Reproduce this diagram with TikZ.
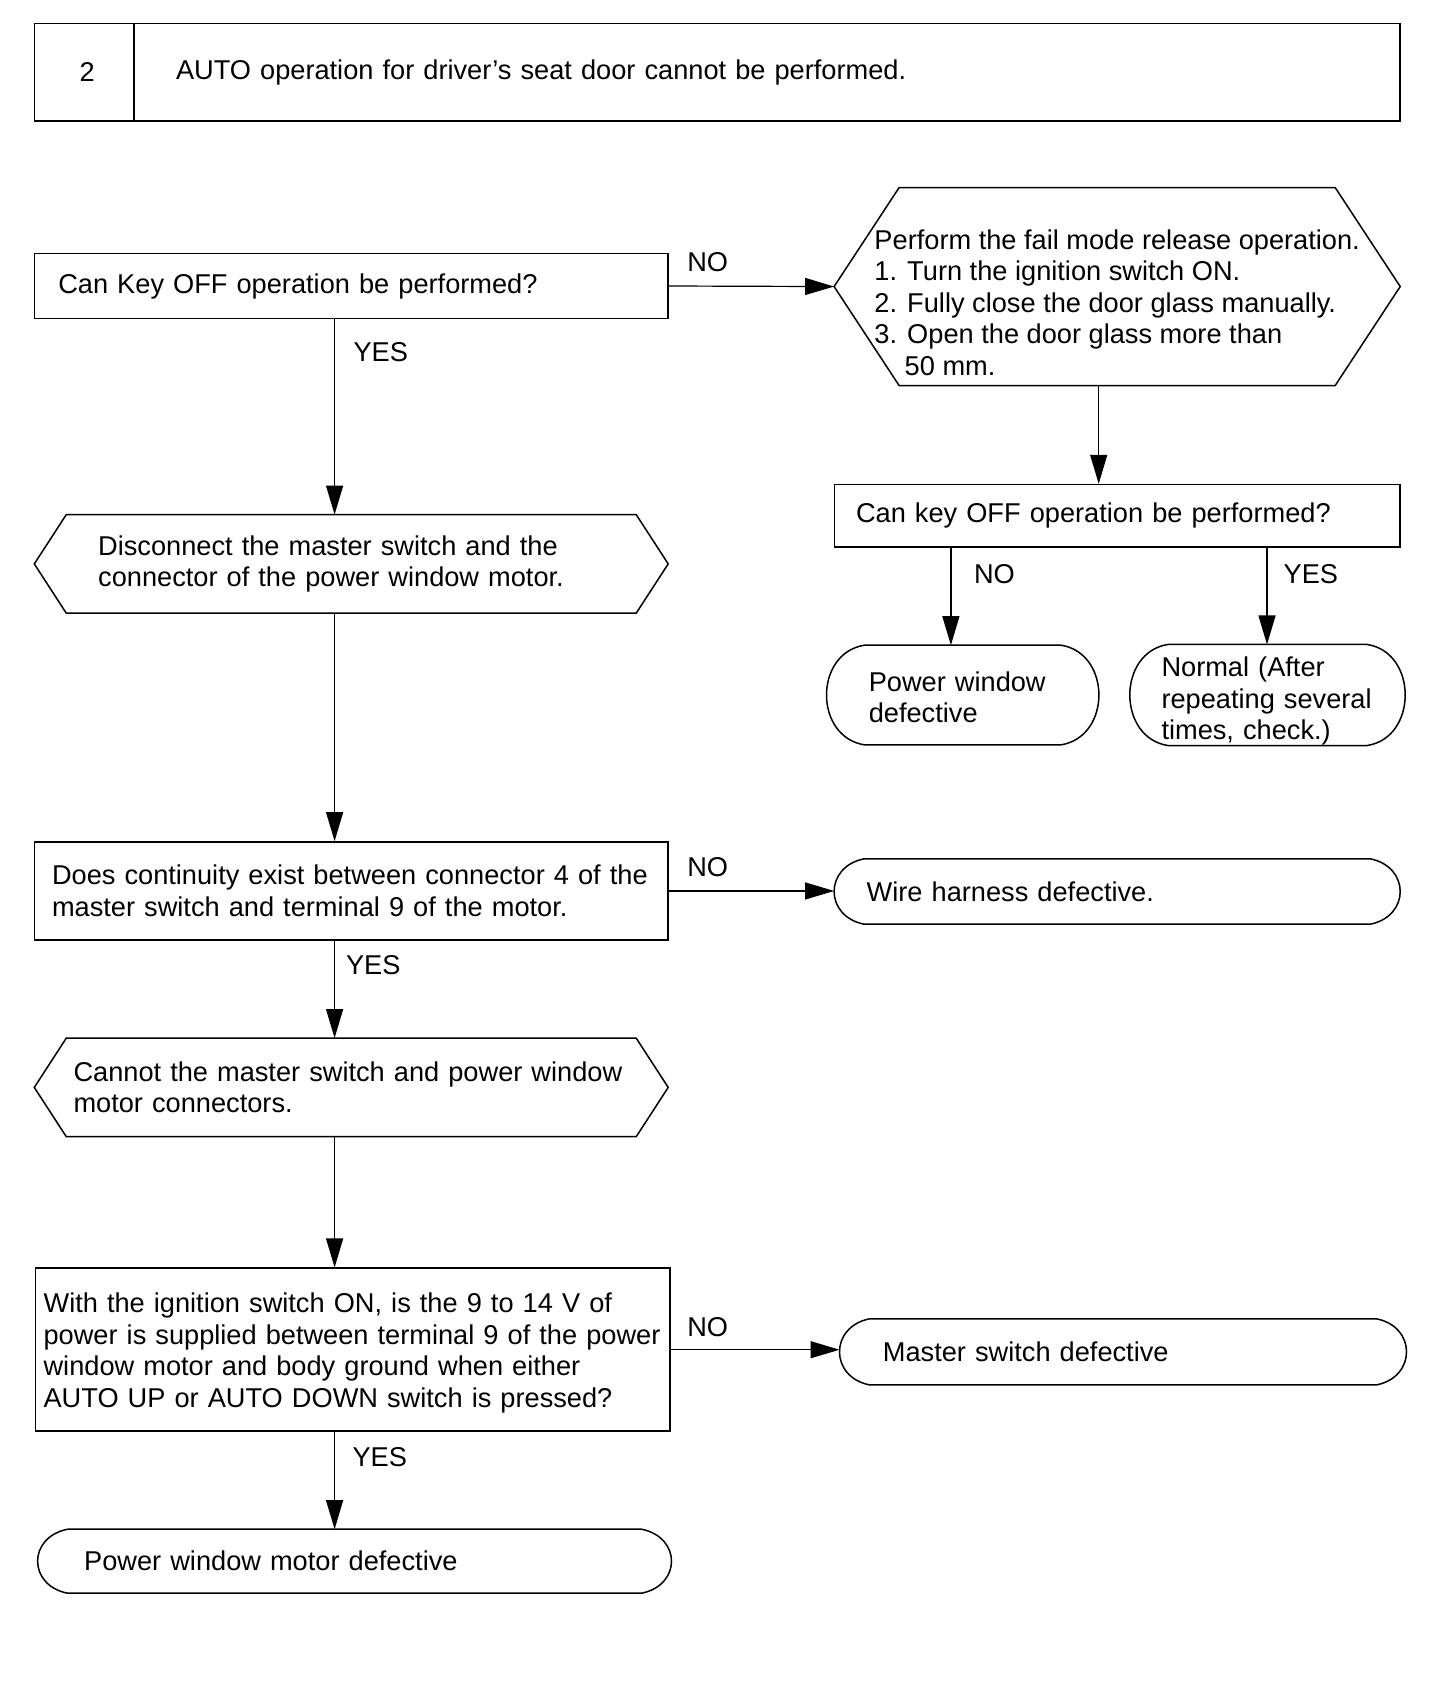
\documentclass[tikz,border=0pt]{standalone}
\usepackage{fontspec}
\setmainfont{Liberation Sans}
\usepackage{tikz}
\usetikzlibrary{arrows.meta}
\tikzset{
  % Flowchart styles
  flowbox/.style={rectangle, draw=black, line width=1.5pt, align=left, inner ysep=0pt},
  hexbox/.style={rectangle, align=left, inner ysep=0pt},
  termbox/.style={rectangle, align=left, inner ysep=0pt},
  outline/.style={draw=black, line width=1.5pt, line join=miter},
  arrow/.style={-{Triangle[length=29pt, width=17pt]}, line width=1.2pt},
  answer/.style={inner sep=0pt},
}
% pointed box round a node (#2 = depth of the points)
\newcommand{\hexoutline}[2]{%
  \draw[outline] (#1.west) -- ([xshift=#2]#1.north west) -- ([xshift=-#2]#1.north east)
    -- (#1.east) -- ([xshift=-#2]#1.south east) -- ([xshift=#2]#1.south west) -- cycle;}
% rounded end box round a node (#2 = depth of the round ends)
\newcommand{\termoutline}[2]{%
  \draw[outline] ([xshift=#2]#1.north west) -- ([xshift=-#2]#1.north east)
    .. controls ([xshift=#2/3, yshift=-8]#1.north east) and ([xshift=#2/3, yshift=8]#1.south east) .. ([xshift=-#2]#1.south east)
    -- ([xshift=#2]#1.south west)
    .. controls ([xshift=-#2/3, yshift=8]#1.south west) and ([xshift=-#2/3, yshift=-8]#1.north west) .. ([xshift=#2]#1.north west);}

\begin{document}
\begin{tikzpicture}[x=1pt, y=-1pt, font=\fontsize{27.2}{31.5}\selectfont]
    \useasboundingbox (0,0) rectangle (1456,1692);

    % Heading
    \node[flowbox, minimum width=99.3, minimum height=97.2, inner xsep=0pt, align=center] (num) at (84.15,72.3) {\hspace*{6pt}2};
    \node[flowbox, minimum width=1266.2, minimum height=97.2, text width=1181.8, inner xsep=42.2] (title) at (766.9,72.3)
      {AUTO operation for driver's seat door cannot be performed.};

    % Columns of the vertical connectors
    \coordinate (spine) at (334.6,0);
    \coordinate (rspine) at (1098.7,0);
    \coordinate (nocol) at (950.9,0);
    \coordinate (yescol) at (1267,0);

    % Key OFF check
    \node[flowbox, minimum width=633.5, minimum height=64.8, text width=585.9, inner xsep=23.8] (keyoff) at (351.25,286)
      {Can Key OFF operation be performed?};

    % Fail mode release
    \node[hexbox, minimum width=565.7, minimum height=197.5, inner xsep=0pt] (release) at (1117.15,286.55)
      {\rule{0pt}{52pt}Perform the fail mode release operation.\\
       1. Turn the ignition switch ON.\\
       2. Fully close the door glass manually.\\
       3. Open the door glass more than\\
       \hphantom{3.~}50 mm.};
    \hexoutline{release}{65}

    \node[flowbox, minimum width=565.7, minimum height=62.6, text width=522.3, inner xsep=21.7] (recheck) at (1117.15,515.9)
      {Can key OFF operation be performed?};

    \node[termbox, minimum width=272, minimum height=99.3, text width=187.8, inner xsep=42.1] (pwdef) at (962.7,695)
      {\rule{0pt}{24pt}Power window\\defective};
    \termoutline{pwdef}{38}

    \node[termbox, minimum width=275, minimum height=99.3, text width=212, inner xsep=31.5] (normal) at (1267.5,695)
      {\rule{0pt}{32pt}Normal (After\\repeating several\\times, check.)};
    \termoutline{normal}{38}

    % Disconnect
    \node[hexbox, minimum width=633.5, minimum height=98.2, text width=506.1, inner xsep=63.7] (disconnect) at (351.25,563.9)
      {Disconnect the master switch and the\\connector of the power window motor.};
    \hexoutline{disconnect}{32}

    % Continuity check
    \node[flowbox, minimum width=633.5, minimum height=98.1, text width=598.5, inner xsep=17.5] (continuity) at (351.25,890.95)
      {Does continuity exist between connector 4 of the\\master switch and terminal 9 of the motor.};

    \node[termbox, minimum width=565.7, minimum height=65, text width=500.9, inner xsep=32.4] (harness) at (1117.15,891.5)
      {Wire harness defective.};
    \termoutline{harness}{30}

    % Reconnect
    \node[hexbox, minimum width=633.5, minimum height=98.2, text width=555.5, inner xsep=39] (reconnect) at (351.25,1087.4)
      {Cannot the master switch and power window\\motor connectors.};
    \hexoutline{reconnect}{32}

    % Voltage check
    \node[flowbox, minimum width=634.6, minimum height=163, text width=618.6, inner xsep=8] (voltage) at (352.9,1349.7)
      {\rule{0pt}{26pt}With the ignition switch ON, is the 9 to 14 V of\\
       power is supplied between terminal 9 of the power\\
       window motor and body ground when either\\
       AUTO UP or AUTO DOWN switch is pressed?};

    \node[termbox, minimum width=566.6, minimum height=65.7, text width=480.2, inner xsep=43.2] (master) at (1123,1351.85)
      {Master switch defective};
    \termoutline{master}{30}

    \node[termbox, minimum width=633.5, minimum height=63.6, text width=540.7, inner xsep=46.4] (motor) at (354.55,1561.2)
      {Power window motor defective};
    \termoutline{motor}{30}

    % Arrows
    \draw[arrow] (keyoff.east) -- node[answer, pos=0, anchor=south west, xshift=18, yshift=14] (noa) {NO} (release.west);
    \draw[arrow] (keyoff.south -| spine) -- node[answer, pos=0, anchor=north west, xshift=18.4, yshift=-22.6] (yesa) {YES} (disconnect.north -| spine);
    \draw[arrow] (release.south -| rspine) -- (recheck.north -| rspine);
    \draw[arrow] (recheck.south -| nocol) -- node[answer, pos=0, anchor=north west, xshift=22.6, yshift=-15.8] (nob) {NO} (pwdef.north -| nocol);
    \draw[arrow] (recheck.south -| yescol) -- node[answer, pos=0, anchor=north west, xshift=16, yshift=-15.8] (yesb) {YES} (normal.north -| yescol);
    \draw[arrow] (disconnect.south -| spine) -- (continuity.north -| spine);
    \draw[arrow] (continuity.east) -- node[answer, pos=0, anchor=south west, xshift=18, yshift=13.6] (noc) {NO} (continuity.east -| harness.west);
    \draw[arrow] (continuity.south -| spine) -- node[answer, pos=0, anchor=north west, xshift=10.8, yshift=-14] (yesc) {YES} (reconnect.north -| spine);
    \draw[arrow] (reconnect.south -| spine) -- (voltage.north -| spine);
    \draw[arrow] (voltage.east) -- node[answer, pos=0, anchor=south west, xshift=15.8, yshift=12] (nod) {NO} (voltage.east -| master.west);
    \draw[arrow] (voltage.south -| spine) -- node[answer, pos=0, anchor=north west, xshift=17.4, yshift=-15] (yesd) {YES} (motor.north -| spine);
  \end{tikzpicture}
\end{document}
